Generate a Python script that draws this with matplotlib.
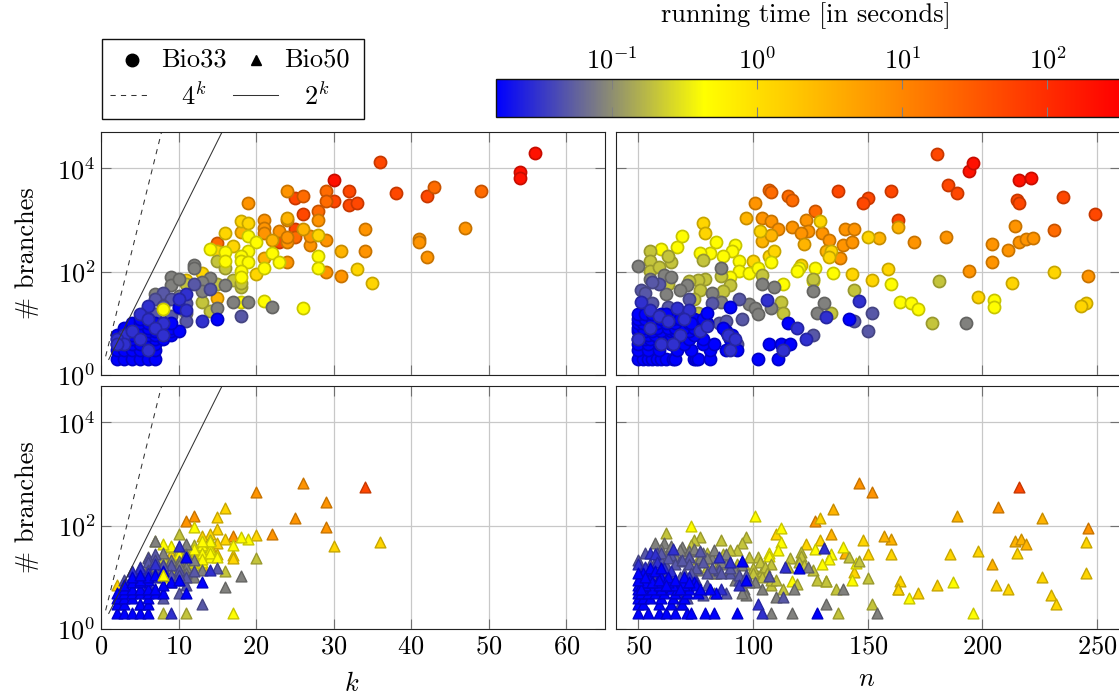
import numpy as np
import matplotlib
matplotlib.use("Agg")
import matplotlib.pyplot as plt
from matplotlib.colors import LinearSegmentedColormap, LogNorm
from matplotlib.cm import ScalarMappable

plt.rcParams['font.family'] = ['cmr10', 'DejaVu Sans']
plt.rcParams['mathtext.fontset'] = 'cm'
plt.rcParams['axes.formatter.use_mathtext'] = True
plt.rcParams['axes.unicode_minus'] = False

# running-time levels (seconds)
T_RED, T_REDOR, T_DORANGE, T_ORANGE, T_AMBER, T_GOLD = 200, 50, 20, 7, 3, 1.3
T_YELLOW, T_OLIVE, T_GRAY, T_SLATE, T_INDIGO, T_BLUE = 0.45, 0.2, 0.085, 0.05, 0.03, 0.016

# ---------- Bio33, k ----------
k33_red = [30, 54, 54, 56]
kb33_red = [6000, 8500, 6500, 20000]
k33_redor = [25, 26, 32, 32, 33, 30, 36, 38, 42, 23, 25]
kb33_redor = [2600, 1300, 3650, 1900, 2100, 2300, 13000, 3300, 2900, 380, 680]
k33_dorange = [26, 29, 29, 43, 49, 28, 15, 25]
kb33_dorange = [2950, 3650, 2300, 4300, 3600, 1500, 360, 460]
k33_orange = [19, 24, 21, 28, 21, 21, 24, 27, 29, 31, 47, 41, 41, 42, 34, 34, 24, 29, 27, 23, 24, 24]
kb33_orange = [2100, 3600, 1000, 1000, 710, 560, 370, 320, 100, 83, 700, 420, 370, 190, 680, 250, 155, 400, 490, 620, 460, 1000]
k33_amber = [21, 31, 15, 22, 18, 24, 26]
kb33_amber = [180, 250, 31, 400, 580, 1100, 660]
k33_gold = [17, 16, 18, 19, 15, 28, 20, 33, 35, 13, 11]
kb33_gold = [315, 560, 950, 880, 250, 510, 90, 110, 60, 95, 68]
k33_yellow = [14, 16, 19, 20, 19, 18, 18, 19, 18, 21, 22, 23, 28, 28, 21, 26, 18, 16, 18]
kb33_yellow = [270, 240, 490, 380, 250, 200, 160, 155, 105, 120, 230, 155, 200, 120, 27, 20, 26, 160, 80]
k33_olive = [15, 16, 18, 15, 13, 14, 11, 17, 18]
kb33_olive = [160, 120, 50, 58, 26, 17, 57, 70, 60]
k33_gray = [9, 12, 12, 9, 14, 10, 13, 17, 19, 15, 22, 16, 7, 8, 11, 6, 13, 10]
kb33_gray = [78, 133, 115, 55, 75, 72, 63, 26, 26, 20, 21, 55, 37, 25, 16, 20, 42, 34]
k33_slate = [8, 12, 18, 11, 9, 7, 14, 9, 5, 11, 8, 4, 6, 4, 7, 10]
kb33_slate = [38, 58, 14, 11, 30, 30, 47, 14, 8, 25, 22, 8, 7, 5, 15, 20]
k33_indigo = [6, 8, 5, 13, 11, 10, 11, 3, 2, 4, 6, 3, 7, 8, 2, 5, 6]
kb33_indigo = [22, 10, 15, 11, 37, 30, 18, 6, 5, 7, 12, 4, 8, 6, 4, 5, 3]
k33_blue = [2, 3, 4, 5, 6, 7, 2, 3, 4, 5, 6, 7, 2, 3, 4, 5, 6, 7,
            2, 3, 4, 5, 6, 7, 8, 2, 3, 4, 5, 6, 7, 8, 9, 3, 4, 5, 6, 7, 8, 9,
            3, 4, 5, 6, 7, 8, 9, 4, 5, 6, 7, 8, 5, 6, 10, 10, 15, 9]
kb33_blue = [2, 2, 2, 2, 2, 2, 3, 3, 3, 3, 3, 3, 4, 4, 4, 4, 4, 4,
             5, 5, 5, 5, 5, 5, 5, 6, 6, 6, 6, 6, 6, 6, 6, 7, 7, 7, 7, 7, 7, 7,
             8, 8, 8, 8, 8, 8, 8, 10, 10, 10, 10, 10, 12, 12, 21, 7, 12, 10]
k33_last = [8]
kb33_last = [19]

# ---------- Bio33, n ----------
n33_red = [194, 196, 216, 221]
nb33_red = [8700, 12800, 5900, 6500]
n33_redor = [137, 150, 160, 148, 180, 185, 189, 235, 249, 215, 216, 163]
nb33_redor = [3650, 2600, 3600, 2100, 19000, 4800, 3300, 2800, 1300, 2400, 2100, 1000]
n33_dorange = [107, 115, 117, 108, 231, 127]
nb33_dorange = [3800, 2950, 2400, 3500, 640, 1500]
n33_orange = [101, 104, 108, 111, 123, 117, 130, 133, 124, 121, 139, 143, 140, 144, 138, 170, 184, 204, 204, 211, 214, 216, 219, 222, 194, 246]
nb33_orange = [2100, 1100, 950, 670, 1000, 720, 560, 400, 600, 560, 320, 370, 660, 670, 180, 370, 470, 340, 150, 260, 760, 370, 420, 440, 105, 84]
n33_amber = [97, 104, 155, 132, 122, 163, 108]
nb33_amber = [1100, 390, 450, 250, 340, 720, 510]
n33_gold = [78, 79, 103, 150, 134, 133, 107, 109, 100, 152, 143, 121, 159, 231, 245, 243, 198, 213, 129]
nb33_gold = [880, 560, 600, 470, 250, 190, 200, 250, 160, 69, 88, 135, 113, 100, 25, 22, 32, 60, 950]
n33_yellow = [60, 67, 69, 84, 92, 91, 87, 81, 77, 94, 94, 98, 102, 108, 120, 119, 127, 135, 113, 126, 160, 164, 90, 205, 205, 169, 172]
nb33_yellow = [270, 300, 490, 380, 320, 250, 200, 230, 225, 160, 105, 96, 120, 155, 115, 105, 120, 95, 58, 66, 58, 26, 80, 28, 21, 25, 19]
n33_olive = [55, 55, 55, 59, 64, 63, 78, 86, 90, 87, 79, 76, 72, 77, 63, 104, 126, 144, 112, 113, 134, 181, 178, 76, 74]
nb33_olive = [250, 160, 105, 125, 150, 200, 170, 83, 55, 43, 72, 68, 65, 45, 58, 86, 73, 44, 26, 16, 16, 65, 10, 16, 30]
n33_gray = [50, 55, 61, 64, 86, 71, 82, 86, 68, 62, 98, 101, 102, 108, 128, 131, 126, 109, 104, 193]
nb33_gray = [130, 72, 85, 80, 118, 55, 38, 26, 44, 37, 24, 20, 15, 20, 16, 25, 43, 50, 57, 10]
n33_slate = [59, 56, 51, 53, 56, 63, 72, 82, 95, 94, 85, 126, 144, 150, 152, 93, 74, 88, 66, 55, 60, 52]
nb33_slate = [58, 63, 45, 38, 25, 21, 30, 25, 12, 29, 10, 6, 11, 7, 16, 4, 8, 11, 15, 12, 8, 16]
n33_indigo = [51, 67, 72, 106, 119, 123, 146, 132, 55, 59, 63, 70, 77, 55, 50, 60, 68, 80, 89, 90, 92, 65, 113]
nb33_indigo = [26, 20, 18, 28, 8, 5, 27, 13, 18, 14, 11, 12, 7, 8, 5, 4, 6, 9, 6, 3, 5, 4, 3]
n33_blue = [50, 52, 54, 56, 58, 60, 62, 65, 66, 74, 75, 76, 81, 102, 111,
            50, 54, 59, 67, 73, 81, 88, 93, 113, 50, 54, 59, 64, 70, 78, 83, 107, 112, 116,
            50, 53, 55, 59, 62, 66, 72, 78, 90, 51, 54, 57, 61, 64, 68, 74, 89, 91,
            50, 53, 56, 60, 64, 66, 69, 72, 88, 50, 52, 55, 58, 63, 66, 70, 74, 87,
            50, 52, 55, 58, 62, 66, 72, 75, 77, 80, 50, 53, 56, 60, 65, 68, 70, 74, 78,
            50, 53, 56, 60, 62, 90, 115, 142, 73, 80]
nb33_blue = [2, 2, 2, 2, 2, 2, 2, 2, 2, 2, 2, 2, 2, 2, 2,
             3, 3, 3, 3, 3, 3, 3, 3, 3, 4, 4, 4, 4, 4, 4, 4, 4, 4, 4,
             5, 5, 5, 5, 5, 5, 5, 5, 5, 6, 6, 6, 6, 6, 6, 6, 6, 6,
             7, 7, 7, 7, 7, 7, 7, 7, 7, 8, 8, 8, 8, 8, 8, 8, 8, 8,
             10, 10, 10, 10, 10, 10, 10, 10, 10, 10, 12, 12, 12, 12, 12, 12, 12, 12, 12,
             15, 15, 15, 15, 15, 21, 10, 12, 10, 16]

# ---------- Bio50, k ----------
k50_redor = [34]
kb50_redor = [560]
k50_orange = [20, 26, 29, 25, 29, 22, 17, 12, 11]
kb50_orange = [450, 670, 280, 140, 92, 70, 63, 150, 124]
k50_gold = [30, 36, 20, 16, 16, 15, 15, 14, 13, 15, 17, 17, 13, 9, 2, 15, 13, 14, 12]
kb50_gold = [41, 49, 65, 215, 56, 144, 85, 70, 63, 47, 27, 24, 17, 28, 7, 28, 35, 40, 30]
k50_yellow = [19, 18, 12, 17, 17, 8, 13, 14, 13, 14, 12, 13, 10, 9, 8, 11, 5, 12, 13, 14, 14, 15, 12, 13]
kb50_yellow = [54, 60, 95, 42, 2, 10, 42, 36, 30, 25, 20, 20, 28, 40, 45, 12, 9, 25, 23, 30, 50, 25, 35, 50]
k50_olive = [10, 14, 20, 16, 11, 8, 9, 7, 10, 12, 6, 8, 11, 9, 10, 12, 13, 11]
kb50_olive = [70, 52, 24, 13, 2, 2, 38, 50, 34, 17, 15, 24, 19, 14, 24, 42, 38, 33]
k50_gray = [18, 16, 11, 11, 7, 12, 8, 6, 9, 10, 5, 7, 13, 8, 9, 10, 11, 12, 11, 10]
kb50_gray = [10.5, 6.4, 16, 45, 50, 10, 30, 25, 18, 21, 12, 20, 14, 17, 22, 17, 28, 22, 12, 13]
k50_slate = [13, 15, 10, 8, 11, 7, 6, 3, 8, 9, 6, 5, 10, 4, 7, 5, 6, 7, 8, 9, 10, 11, 12, 7, 8, 9, 10]
kb50_slate = [3, 15, 5, 4, 7, 28, 24, 9, 15, 8, 20, 16, 9, 6, 6, 12, 14, 12, 12, 17, 14, 10, 13, 22, 17, 11, 11]
k50_indigo = [9, 14, 10, 5, 4, 6, 7, 4, 6, 5, 8, 7]
kb50_indigo = [2, 14, 40, 15, 13, 12, 10, 9, 7, 3, 11, 18]
k50_blue = [2, 3, 4, 5, 6, 2, 3, 5, 6, 2, 3, 4, 6, 2, 3, 4, 5, 6, 7, 8, 3, 4, 5, 6, 7,
            11, 13, 11, 3, 4, 5, 9, 10, 8, 6, 5, 6, 7, 4, 5, 8]
kb50_blue = [2, 2, 2, 2, 2, 3, 3, 3, 3, 4, 4, 4, 4, 5, 5, 5, 5, 5, 5, 5, 6, 6, 6, 6, 6,
             5, 8, 25, 7, 8, 8, 8, 9, 7, 9, 9, 10, 11, 10, 11, 13]
k50_last = [8]
kb50_last = [11]

# ---------- Bio50, n ----------
n50_redor = [216]
nb50_redor = [560]
n50_orange = [146, 152, 127, 246, 207]
nb50_orange = [670, 450, 125, 90, 230]
n50_amber = [135, 134, 160, 157, 140, 214, 217, 219, 226, 189, 204]
nb50_amber = [210, 68, 56, 63, 30, 50, 55, 45, 140, 150, 18]
n50_gold = [129, 110, 129, 123, 148, 160, 164, 163, 150, 144, 198, 245, 245, 230, 186, 163, 172, 180, 232, 206, 211, 215, 226]
nb50_gold = [140, 68, 53, 45, 52, 28, 8.5, 6, 28, 12.5, 32, 48, 12, 4.5, 28, 6, 5, 7, 3, 7, 6, 30, 10]
n50_yellow = [101, 73, 112, 112, 127, 111, 107, 134, 133, 130, 139, 143, 145, 117, 132, 107, 187, 196, 168]
nb50_yellow = [150, 100, 88, 48, 36, 33, 29, 28, 23, 18, 39, 9, 19, 8.5, 8.5, 26, 8, 2, 4]
n50_olive = [97, 95, 93, 90, 87, 86, 83, 80, 77, 74, 73, 62, 121, 121, 116, 102, 108, 126, 128, 132, 137, 150, 146, 142, 136,
             152, 113, 119, 102, 104, 108, 93, 85, 80, 90, 83, 76, 98, 100, 103, 105, 106, 100, 104, 108, 96, 110, 115, 120, 122]
nb50_olive = [59, 47, 33, 33, 28, 52, 28, 30, 61, 52, 42, 73, 31, 26, 24, 25, 18, 14, 9, 8.5, 2, 9.5, 21, 25, 6,
              3, 6, 7.4, 10.5, 13, 7, 18, 20, 16, 14, 12, 23, 25, 15, 20, 16, 12, 12, 10, 9, 18, 9, 16, 20, 17]
n50_gray = [69, 61, 57, 124, 154, 117, 108, 110, 118, 104, 101, 139, 132, 66, 63, 72, 78, 82, 88, 76, 84, 92, 96, 83, 97,
            74, 77, 80, 83, 86, 88, 92, 95, 72, 68, 64, 60, 98, 95]
nb50_gray = [39, 46, 47, 16, 2, 2, 2, 4.2, 6, 6, 8, 6, 3, 26, 30, 32, 30, 24, 18, 14, 12, 9, 6, 5, 4.5,
             35, 24, 24, 34, 20, 28, 14, 17, 26, 34, 40, 36, 8, 5]
n50_slate = [113, 107, 60, 64, 68, 72, 77, 85, 90, 94, 55, 58, 62, 70, 75, 80, 66, 88, 78, 68, 71,
             50, 53, 57, 60, 63, 66, 69, 72, 75, 78, 82, 86, 90, 94, 97, 53, 56, 60, 64, 68, 73, 80]
nb50_slate = [4.2, 10.5, 22, 27, 21, 25, 32, 14, 12, 9, 18, 30, 17, 12, 9, 7, 7, 5, 4.5, 3, 4,
              22, 30, 20, 30, 24, 18, 22, 18, 15, 20, 15, 12, 15, 11, 11, 12, 10, 12, 9, 10, 12, 12]
n50_indigo = [131, 104, 102, 114, 65, 55, 57, 50, 53, 58, 61, 64, 72, 85, 90, 94, 51, 54, 62, 67, 70, 75, 86]
nb50_indigo = [37, 2, 3, 16, 36, 30, 28, 18, 16, 20, 15, 13, 10, 25, 20, 7, 12, 10, 9, 5, 6, 8, 6]
n50_blue = [50, 54, 59, 62, 66, 71, 73, 79, 83, 93, 128,
            50, 52, 59, 64, 69, 50, 52, 55, 60, 65, 70, 50, 51, 54, 57, 61, 66, 71, 76, 84,
            50, 52, 56, 60, 64, 67, 72, 81, 50, 51, 53, 59, 62, 65, 70,
            54, 58, 63, 69, 74, 51, 55, 60, 95, 120, 97,
            55, 52, 57, 60, 63, 66, 70, 75, 53, 56, 59, 62, 68, 72, 77, 51, 50, 50, 53]
nb50_blue = [2, 2, 2, 2, 2, 2, 2, 2, 2, 2, 2,
             3, 3, 3, 3, 3, 4, 4, 4, 4, 4, 4, 5, 5, 5, 5, 5, 5, 5, 5, 5,
             6, 6, 6, 6, 6, 6, 6, 6, 7, 7, 7, 7, 7, 7, 7,
             8, 8, 8, 8, 8, 10, 10, 10, 21, 15, 9,
             15, 12, 13, 15, 10, 9, 10, 7, 8, 8, 9, 7, 6, 8, 6, 6, 9, 12, 10]
k_ticks = [0, 10, 20, 30, 40, 50, 60]
n_ticks = [50, 100, 150, 200, 250]
y_ticks = [1, 100, 10000]
cbar_ticks = [0.1, 1, 10, 100]
cmap_colors = ['#0000ff', '#ffff00', '#ff8000', '#ff0000']

W, H = 1119, 696
fig = plt.figure(figsize=(W / 100, H / 100), dpi=100)


def add_axes(x0, y0, x1, y1):
    return fig.add_axes([x0 / W, 1 - y1 / H, (x1 - x0) / W, (y1 - y0) / H])


cmap = LinearSegmentedColormap.from_list('bt', cmap_colors, N=512)
norm = LogNorm(vmin=10 ** -1.8, vmax=10 ** 2.5)

ax_k33 = add_axes(101, 132, 605, 375)
ax_n33 = add_axes(616, 132, 1120, 375)
ax_k50 = add_axes(101, 386, 605, 629)
ax_n50 = add_axes(616, 386, 1120, 629)

FS = 19


def style(ax, xlim, xticks, left, bottom):
    ax.set_yscale('log')
    ax.set_xlim(*xlim)
    ax.set_ylim(1, 10 ** 4.7)
    ax.set_xticks(xticks)
    ax.set_yticks(y_ticks)
    ax.minorticks_off()
    ax.grid(True, color='#c8c8c8', lw=0.9, zorder=0)
    ax.set_axisbelow(True)
    ax.tick_params(direction='in', length=7, width=0.8, color='#707070', top=True, right=True,
                   labelleft=left, labelbottom=bottom, labelsize=FS, pad=4)
    for s in ax.spines.values():
        s.set_linewidth(0.8)
        s.set_color('#222222')
        s.set_zorder(10)
    ax.xaxis.set_major_formatter(matplotlib.ticker.FuncFormatter(lambda v, p: f'${v:g}$'))
    ax.yaxis.set_major_formatter(matplotlib.ticker.FuncFormatter(lambda v, p: f'$10^{{{int(round(np.log10(v)))}}}$'))


def draw(ax, layers, marker, size, lw):
    for xs, ys, t in layers:
        rgba = cmap(norm(t))
        edge = tuple(c * 0.78 for c in rgba[:3])
        ax.scatter(xs, ys, marker=marker, s=size, color=[rgba], edgecolors=[edge],
                   linewidths=lw, zorder=3, clip_on=True)


draw(ax_k33, [(k33_red, kb33_red, T_RED), (k33_redor, kb33_redor, T_REDOR), (k33_dorange, kb33_dorange, T_DORANGE),
              (k33_orange, kb33_orange, T_ORANGE), (k33_amber, kb33_amber, T_AMBER), (k33_gold, kb33_gold, T_GOLD),
              (k33_olive, kb33_olive, T_OLIVE), (k33_yellow, kb33_yellow, T_YELLOW), (k33_gray, kb33_gray, T_GRAY),
              (k33_slate, kb33_slate, T_SLATE), (k33_blue, kb33_blue, T_BLUE), (k33_indigo, kb33_indigo, T_INDIGO),
              (k33_last, kb33_last, T_YELLOW)], 'o', 76, 1.25)
draw(ax_n33, [(n33_red, nb33_red, T_RED), (n33_redor, nb33_redor, T_REDOR), (n33_dorange, nb33_dorange, T_DORANGE),
              (n33_orange, nb33_orange, T_ORANGE), (n33_amber, nb33_amber, T_AMBER), (n33_gold, nb33_gold, T_GOLD),
              (n33_yellow, nb33_yellow, T_YELLOW), (n33_olive, nb33_olive, T_OLIVE), (n33_gray, nb33_gray, T_GRAY),
              (n33_slate, nb33_slate, T_SLATE), (n33_blue, nb33_blue, T_BLUE), (n33_indigo, nb33_indigo, T_INDIGO)],
     'o', 76, 1.25)
draw(ax_k50, [(k50_redor, kb50_redor, T_REDOR), (k50_orange, kb50_orange, T_ORANGE), (k50_gold, kb50_gold, T_GOLD),
              (k50_olive, kb50_olive, T_OLIVE), (k50_yellow, kb50_yellow, T_YELLOW), (k50_gray, kb50_gray, T_GRAY),
              (k50_slate, kb50_slate, T_SLATE), (k50_indigo, kb50_indigo, T_INDIGO), (k50_blue, kb50_blue, T_BLUE),
              (k50_last, kb50_last, T_YELLOW)], '^', 60, 1.0)
draw(ax_n50, [(n50_redor, nb50_redor, T_REDOR), (n50_orange, nb50_orange, T_ORANGE), (n50_amber, nb50_amber, T_AMBER),
              (n50_gold, nb50_gold, T_GOLD), (n50_yellow, nb50_yellow, T_YELLOW), (n50_olive, nb50_olive, T_OLIVE),
              (n50_gray, nb50_gray, T_GRAY), (n50_slate, nb50_slate, T_SLATE), (n50_indigo, nb50_indigo, T_INDIGO),
              (n50_blue, nb50_blue, T_BLUE)], '^', 60, 1.0)

style(ax_k33, (0, 65), k_ticks, True, False)
style(ax_n33, (40.2, 260), n_ticks, False, False)
style(ax_k50, (0, 65), k_ticks, True, True)
style(ax_n50, (40.2, 260), n_ticks, False, True)

# reference curves
k_range = np.linspace(1, 20, 100)
for ax in (ax_k33, ax_k50):
    ax.plot(k_range - 0.4, 4.0 ** (k_range - 0.4), color='#333333', lw=0.75, dashes=(5, 5), zorder=4)
    ax.plot(k_range, 2.0 ** k_range, color='#333333', lw=0.75, zorder=4)

fig.text(352 / W, 1 - 684 / H, '$k$', ha='center', va='center', fontsize=FS)
fig.text(867 / W, 1 - 679 / H, '$n$', ha='center', va='center', fontsize=FS)
fig.text(27 / W, 1 - 253 / H, r'# branches', rotation=90, ha='center', va='center', fontsize=FS)
fig.text(27 / W, 1 - 507 / H, r'# branches', rotation=90, ha='center', va='center', fontsize=FS)

# colour bar
cax = add_axes(496, 79, 1120, 117)
cb = fig.colorbar(ScalarMappable(norm=norm, cmap=cmap), cax=cax, orientation='horizontal')
cb.set_ticks(cbar_ticks)
cb.ax.xaxis.set_major_formatter(matplotlib.ticker.FuncFormatter(lambda v, p: f'$10^{{{int(round(np.log10(v)))}}}$'))
cb.ax.minorticks_off()
cb.ax.tick_params(which='both', direction='in', length=7, width=0.8, color='#808080', top=True, bottom=True,
                  labeltop=True, labelbottom=False, labelsize=FS, pad=4)
cb.outline.set_linewidth(1.0)
cb.outline.set_edgecolor('#111111')
fig.text(806 / W, 1 - 16 / H, 'running time [in seconds]', ha='center', va='center', fontsize=FS)

# legend box
lax = fig.add_axes([0, 0, 1, 1], facecolor='none')
lax.set_xlim(0, W)
lax.set_ylim(H, 0)
lax.axis('off')
lax.add_patch(plt.Rectangle((101.5, 38.5), 262, 80.5, fill=False, ec='#111111', lw=1.0))
lax.plot([132], [60], 'o', color='black', ms=9)
lax.plot([256], [60], '^', color='black', ms=7)
lax.plot([110, 150], [95, 95], color='#333333', lw=0.75, dashes=(5, 5))
lax.plot([233, 278], [95, 95], color='#333333', lw=0.75)
lax.text(194, 60, 'Bio33', ha='center', va='center', fontsize=FS)
lax.text(317, 60, 'Bio50', ha='center', va='center', fontsize=FS)
lax.text(194, 96, '$4^k$', ha='center', va='center', fontsize=FS)
lax.text(317, 96, '$2^k$', ha='center', va='center', fontsize=FS)

fig.savefig('out.png', dpi=100)
